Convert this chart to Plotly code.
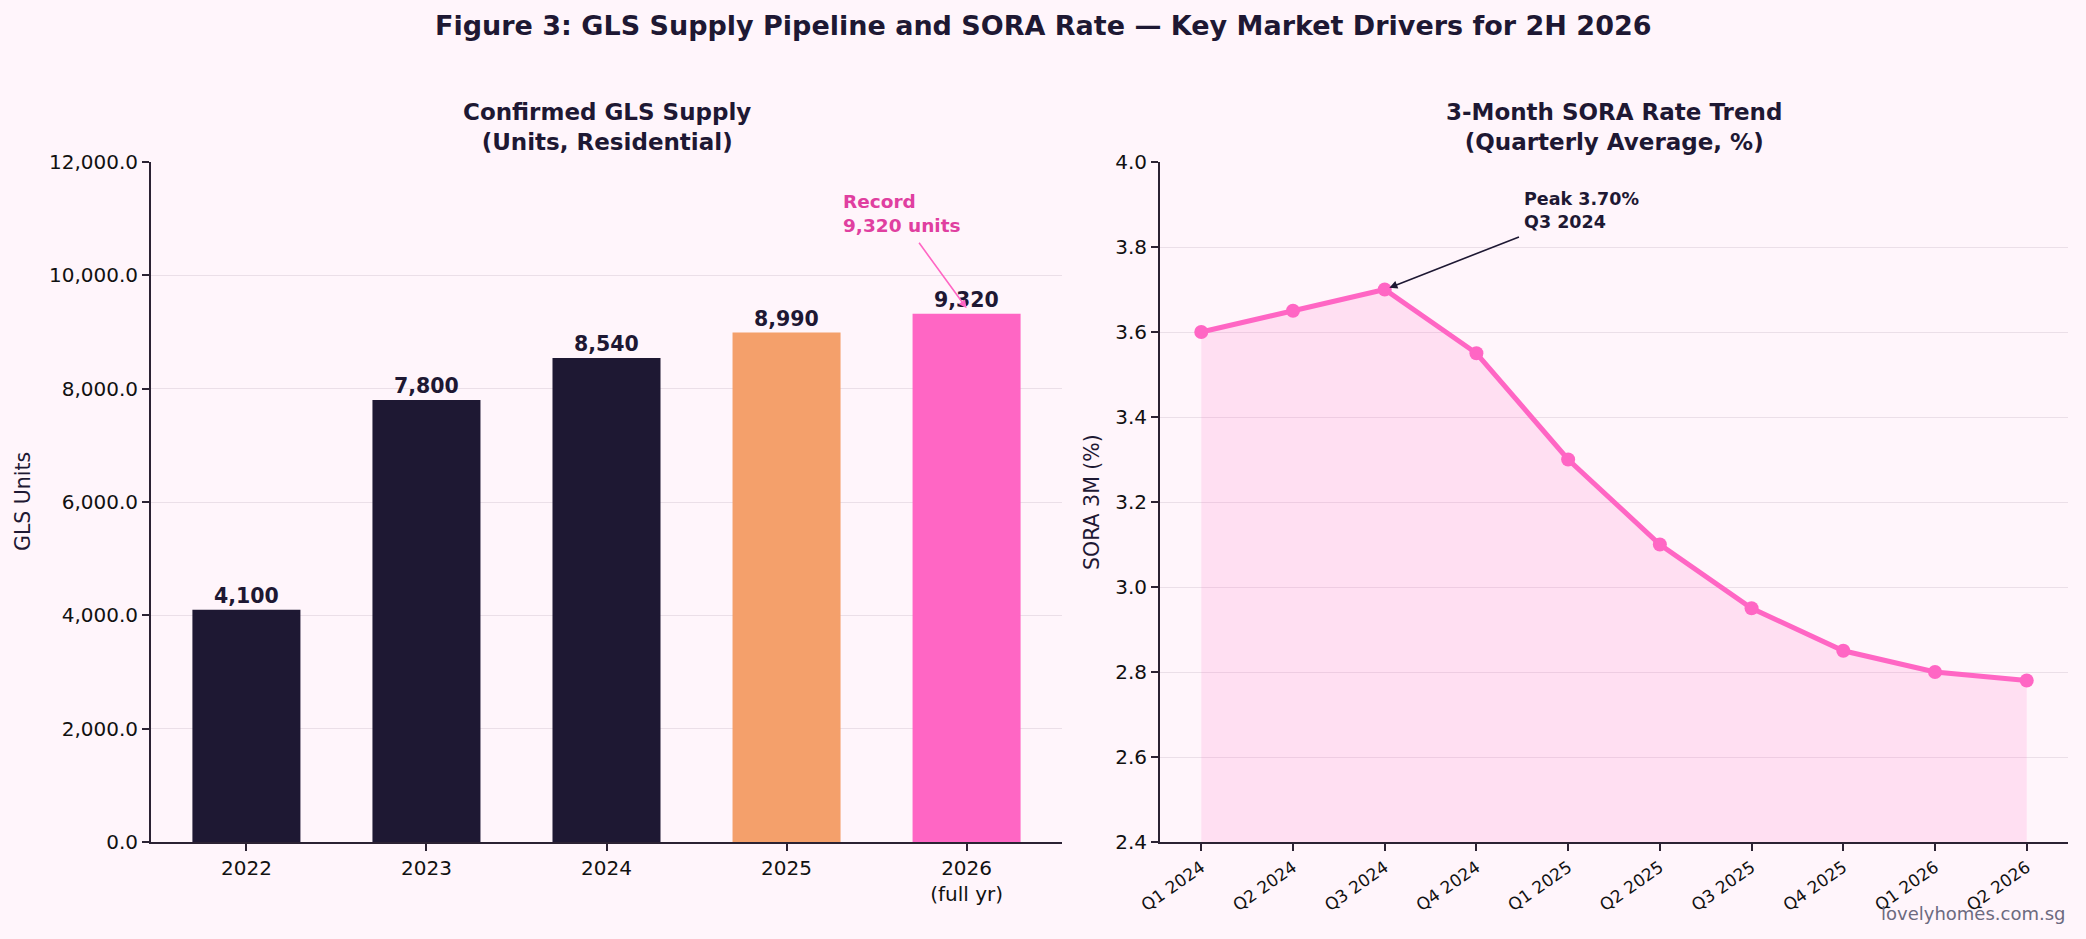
import plotly.graph_objects as go

# ---------------- data ----------------
gls_years = ["2022", "2023", "2024", "2025", "2026"]
gls_year_labels = ["2022", "2023", "2024", "2025", "2026<br>(full yr)"]
gls_units = [4100, 7800, 8540, 8990, 9320]
gls_colors = ["#1e1833", "#1e1833", "#1e1833", "#f4a06b", "#ff66c4"]

sora_quarters = ["Q1 2024", "Q2 2024", "Q3 2024", "Q4 2024", "Q1 2025",
                 "Q2 2025", "Q3 2025", "Q4 2025", "Q1 2026", "Q2 2026"]
sora_rate = [3.60, 3.65, 3.70, 3.55, 3.30, 3.10, 2.95, 2.85, 2.80, 2.78]

# ---------------- style ----------------
W, H = 2086, 939
BG = "#fff5fb"
DARK = "#1e1833"
PINK = "#ff66c4"
AXIS = "#2b2233"
GRID = "#ebdfe8"
FONT = "DejaVu Sans"

def fx(px):
    return px / W

def fy(py):
    return 1 - py / H

fig = go.Figure()

# Left: bars
fig.add_trace(go.Bar(
    x=gls_years, y=gls_units, marker=dict(color=gls_colors, line=dict(width=0)),
    width=0.6, xaxis="x", yaxis="y", showlegend=False, hoverinfo="x+y",
))

# Right: fill + line
fig.add_trace(go.Scatter(
    x=sora_quarters, y=sora_rate, mode="lines", line=dict(width=0, color="rgba(0,0,0,0)"),
    fill="tozeroy", fillcolor="rgba(255,102,196,0.15)", xaxis="x2", yaxis="y2",
    showlegend=False, hoverinfo="skip",
))
fig.add_trace(go.Scatter(
    x=sora_quarters, y=sora_rate, mode="lines+markers",
    line=dict(width=5, color=PINK), marker=dict(size=14, color=PINK),
    xaxis="x2", yaxis="y2", showlegend=False,
))

axis_common = dict(
    showline=True, linecolor=AXIS, linewidth=2, ticks="outside", ticklen=7,
    tickwidth=1.8, tickcolor=AXIS, zeroline=False, automargin=False,
    tickfont=dict(family=FONT, size=20, color="#111111"),
)

L0, L1 = fx(151), fx(1062)
R0, R1 = fx(1160), fx(2068)
B0, B1 = fy(842), fy(162)

fig.update_layout(
    width=W, height=H, paper_bgcolor=BG, plot_bgcolor=BG,
    margin=dict(l=0, r=0, t=0, b=0),
    xaxis=dict(domain=[L0, L1], type="category", range=[-0.53, 4.53],
               tickvals=gls_years, ticktext=gls_year_labels, showgrid=False,
               anchor="y", **axis_common),
    yaxis=dict(domain=[B0, B1], range=[0, 12000], dtick=2000, tickformat=",.1f",
               showgrid=True, gridcolor=GRID, gridwidth=1, anchor="x", **axis_common),
    xaxis2=dict(domain=[R0, R1], type="category", range=[-0.45, 9.45],
                tickangle=-35, showgrid=False, anchor="y2",
                **{**axis_common, "tickfont": dict(family=FONT, size=17, color="#111111")}),
    yaxis2=dict(domain=[B0, B1], range=[2.4, 4.0], dtick=0.2, tickformat=".1f",
                showgrid=True, gridcolor=GRID, gridwidth=1, anchor="x2", **axis_common),
)

ann = []
# Main title
ann.append(dict(text="Figure 3: GLS Supply Pipeline and SORA Rate — Key Market Drivers for 2H 2026",
                x=0.5, y=fy(25), xref="paper", yref="paper", showarrow=False,
                xanchor="center", yanchor="middle",
                font=dict(family=FONT, size=27, color=DARK, weight="bold")))
# Subplot titles
ann.append(dict(text="Confirmed GLS Supply<br>(Units, Residential)",
                x=(L0 + L1) / 2, y=fy(127), xref="paper", yref="paper", showarrow=False,
                xanchor="center", yanchor="middle",
                font=dict(family=FONT, size=23, color=DARK, weight="bold")))
ann.append(dict(text="3-Month SORA Rate Trend<br>(Quarterly Average, %)",
                x=(R0 + R1) / 2, y=fy(127), xref="paper", yref="paper", showarrow=False,
                xanchor="center", yanchor="middle",
                font=dict(family=FONT, size=23, color=DARK, weight="bold")))
# Axis titles
ann.append(dict(text="GLS Units", x=fx(23), y=(B0 + B1) / 2, xref="paper", yref="paper",
                showarrow=False, textangle=-90, xanchor="center", yanchor="middle",
                font=dict(family=FONT, size=20.5, color=DARK)))
ann.append(dict(text="SORA 3M (%)", x=fx(1092), y=(B0 + B1) / 2, xref="paper", yref="paper",
                showarrow=False, textangle=-90, xanchor="center", yanchor="middle",
                font=dict(family=FONT, size=20.5, color=DARK)))
# Bar value labels
for i, v in enumerate(gls_units):
    ann.append(dict(text=f"{v:,}", x=i, y=v, xref="x", yref="y", showarrow=False,
                    xanchor="center", yanchor="bottom", yshift=0,
                    font=dict(family=FONT, size=20.5, color=DARK, weight="bold")))
# Record annotation
rec_idx = len(gls_units) - 1
ann.append(dict(text=f"Record<br>{gls_units[rec_idx]:,} units", x=3.3, y=10660, xref="x", yref="y",
                showarrow=False, xanchor="left", yanchor="bottom", align="left",
                font=dict(family=FONT, size=18.5, color="#e03fa0", weight="bold")))
ann.append(dict(text="", x=rec_idx, y=gls_units[rec_idx] + 100, xref="x", yref="y",
                ax=3.73, ay=10600, axref="x", ayref="y", showarrow=True,
                arrowhead=2, arrowsize=1, arrowwidth=1.6, arrowcolor=PINK, standoff=0))
# Peak annotation
peak_idx = sora_rate.index(max(sora_rate))
ann.append(dict(text=f"Peak {sora_rate[peak_idx]:.2f}%<br>{sora_quarters[peak_idx]}",
                x=3.5, y=3.83, xref="x2", yref="y2",
                showarrow=False, xanchor="left", yanchor="bottom", align="left",
                font=dict(family=FONT, size=17.5, color=DARK, weight="bold")))
ann.append(dict(text="", x=peak_idx, y=sora_rate[peak_idx], xref="x2", yref="y2",
                ax=3.48, ay=3.825, axref="x2", ayref="y2", showarrow=True,
                arrowhead=2, arrowsize=1, arrowwidth=1.6, arrowcolor=DARK, standoff=5))
# Watermark
ann.append(dict(text="lovelyhomes.com.sg", x=fx(2068), y=fy(913), xref="paper", yref="paper",
                showarrow=False, xanchor="right", yanchor="middle",
                font=dict(family=FONT, size=18, color="#6c6a80")))

fig.update_layout(annotations=ann)
fig.write_html("out.html")
